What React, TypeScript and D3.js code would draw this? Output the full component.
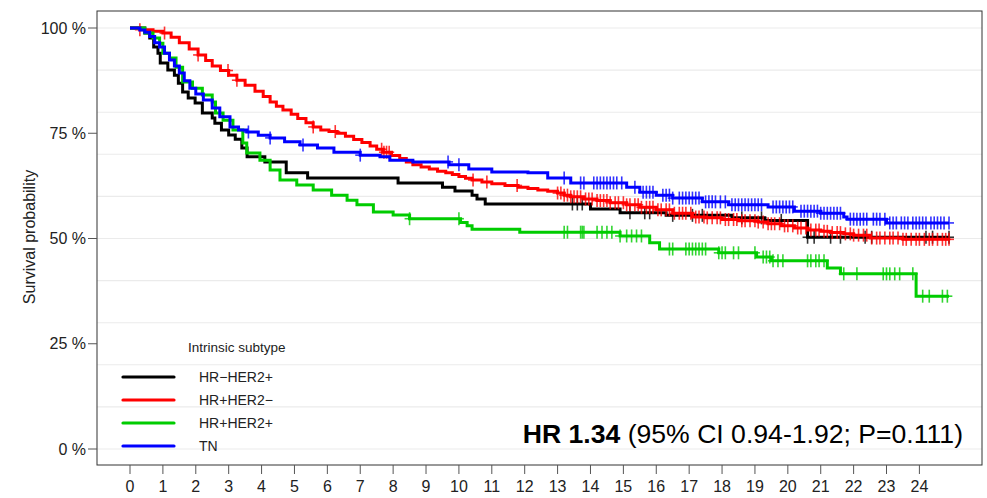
import React from "react";
import * as d3 from "d3";

const xTicks = [0,1,2,3,4,5,6,7,8,9,10,11,12,13,14,15,16,17,18,19,20,21,22,23,24];
const yTicks = [0, 25, 50, 75, 100];
const yTickLabels = ["0 %", "25 %", "50 %", "75 %", "100 %"];
const gridVals = [0,10,20,30,40,50,60,70,80,90,100];
const endTime = 24.9;

const seriesNames = ["HR\u2212HER2+", "HR+HER2\u2212", "HR+HER2+", "TN"];
const seriesColors = ["#000000", "#FF0000", "#00CC00", "#0000FF"];

const blackT = [0,0.45,0.6,0.72,0.85,0.92,1.15,1.35,1.47,1.6,1.77,1.98,2.2,2.5,2.58,2.78,3.0,3.2,3.4,3.56,4.1,4.75,5.4,8.15,9.5,9.88,10.4,10.55,10.8,14.0,14.9,16.3,18.3,19.3,20.6];
const blackS = [100,98.8,97.6,95.5,94,91.7,90,88.8,86.9,84.8,83.4,82.2,79.8,78.6,77.4,75.8,74.6,73.6,71.5,69.4,68.2,65.6,64.4,63.2,62.2,61.3,60.3,59.4,58.2,57,56.1,55.5,54.9,54.3,50.3];
const blackCens = [13.45,13.6,13.75,15.2,15.65,15.8,16.5,17.1,17.4,18.6,19.2,19.8,20.6,20.8,21.3,21.6,22.35,22.55,24.2,24.4,24.9];

const redT = [0,0.3,0.7,1.0,1.25,1.5,1.8,2.07,2.3,2.5,2.75,3.0,3.25,3.5,3.8,4.05,4.26,4.45,4.65,4.9,5.1,5.35,5.57,5.8,6.05,6.3,6.55,6.8,7.05,7.3,7.5,7.7,7.95,8.2,8.4,8.6,8.85,9.1,9.35,9.6,9.8,10.0,10.2,10.4,10.7,11.0,11.4,11.8,12.1,12.4,12.7,13.0,13.2,13.4,13.8,14.2,14.6,15.1,15.5,16.0,16.5,17.1,17.5,18.0,18.5,19.1,19.4,19.8,20.2,20.6,21.0,21.3,21.7,22.0,22.5,23.5];
const redS = [100,99.6,99.2,98.8,97.8,96.5,95,93.6,92.3,91,89.9,88.8,87.6,86.4,85,83.7,82.4,81.4,80.5,79.5,78.5,77.5,76.5,75.8,75.4,75,74.3,73.5,72.8,72,71.2,70.5,69.7,69,68.2,67.5,67,66.5,66,65.6,65.2,64.7,64.3,63.9,63.4,63,62.6,62.2,61.9,61.5,61.2,60.8,60.3,59.9,59.4,59,58.5,58,57.4,56.8,56,55.1,54.9,54.5,54.2,53.9,53.5,53,52.5,52,51.7,51.4,51.1,50.8,50.1,49.8];
const redCens = [0.3,1.05,2.07,2.98,3.25,5.57,6.24,7.65,7.72,7.8,7.88,10.43,10.85,11.77,13.0,13.1,13.2,13.3,13.4,13.5,13.6,13.7,13.85,13.95,14.05,14.2,14.3,14.4,14.5,14.6,14.75,14.85,15.0,15.1,15.2,15.35,15.45,15.55,15.7,15.8,15.9,16.05,16.15,16.3,16.4,16.55,16.7,16.8,16.9,17.05,17.2,17.3,17.45,17.55,17.7,17.85,17.95,18.1,18.2,18.35,18.45,18.6,18.7,18.85,19.0,19.1,19.25,19.4,19.5,19.6,19.75,19.9,20.0,20.15,20.3,20.4,20.55,20.7,20.85,20.95,21.1,21.2,21.35,21.5,21.6,21.75,21.9,22.0,22.15,22.3,22.4,22.55,22.7,22.8,22.95,23.1,23.2,23.35,23.5,23.6,23.75,23.9,24.0,24.15,24.3,24.4,24.55,24.7,24.8,24.9];

const greenT = [0,0.45,0.7,0.9,1.0,1.2,1.4,1.6,1.9,2.2,2.5,2.6,2.83,3.13,3.43,3.55,3.95,4.26,4.56,5.07,5.57,6.13,6.6,6.9,7.4,8.0,8.5,10.05,10.25,10.4,11.85,14.9,15.8,16.1,17.9,19.05,19.5,21.2,21.6,23.9];
const greenS = [100,98.8,97.6,96.4,94,92.9,90.7,87.2,85.7,84.1,82.4,79.8,78.1,75.8,72.7,70.3,68.6,66.3,63.9,62.7,61.5,60.3,59.1,58,56.3,55.6,54.7,53.8,53,52.2,51.5,50.6,49,47.5,46.6,45.6,44.7,43,41.6,36.3];
const greenCens = [8.5,10.0,13.2,13.3,13.7,13.75,13.8,14.2,14.35,14.5,14.65,14.9,15.1,15.25,15.4,15.55,16.4,16.5,16.9,17.0,17.1,17.2,17.3,17.4,17.5,17.9,18.0,18.1,18.35,18.5,19.0,19.25,19.35,19.45,19.55,19.7,19.85,20.6,20.7,20.85,20.95,21.1,21.7,22.1,22.9,23.0,23.1,23.25,23.4,23.8,24.1,24.3,24.7,24.85];

const blueT = [0,0.3,0.45,0.6,0.75,0.9,1.05,1.2,1.35,1.5,1.65,1.82,2.0,2.23,2.5,2.73,3.04,3.3,3.55,3.9,4.26,4.7,5.17,5.7,6.2,7.0,7.6,7.9,8.6,9.7,10.3,11.0,12.1,12.7,13.4,15.1,15.5,16.0,16.5,17.4,18.2,19.4,20.2,21.0,21.7,21.8,23.0];
const blueS = [100,99.5,99,98,96.5,95.5,94,92.4,91,89.3,87.5,85.7,84.3,82.9,81,78.9,76.5,75.8,75.3,74.5,73.9,73,72.2,71.5,70.5,69.8,69.4,68.6,68.2,67.5,66.5,65.8,65.6,64.4,63.2,62.2,61,60.3,59.6,58.7,58,57.5,56.5,56,55.1,54.6,53.7];
const blueCens = [3.6,4.26,5.26,7.0,9.67,10.0,13.2,13.7,13.8,14.1,14.2,14.3,14.4,14.5,14.6,14.7,14.8,14.95,15.35,15.6,15.7,15.8,15.9,16.2,16.3,16.4,16.5,16.7,16.8,16.9,17.0,17.1,17.2,17.3,17.5,17.6,17.7,17.8,17.95,18.1,18.3,18.4,18.5,18.6,18.7,18.8,18.9,19.0,19.1,19.2,19.55,19.65,19.75,19.85,19.95,20.05,20.15,20.4,20.5,20.6,20.7,20.8,20.9,21.0,21.1,21.2,21.3,21.4,21.5,21.6,21.9,22.0,22.1,22.2,22.3,22.4,22.6,22.7,22.8,22.95,23.1,23.2,23.3,23.45,23.55,23.65,23.8,23.9,24.0,24.1,24.2,24.35,24.45,24.55,24.65,24.75,24.9];

const seriesT = [blackT, redT, greenT, blueT];
const seriesS = [blackS, redS, greenS, blueS];
const seriesCens = [blackCens, redCens, greenCens, blueCens];

const W = 987, H = 498;
const panel = { left: 97, right: 982, top: 11, bottom: 465 };
const FONT = "Liberation Sans, Arial, sans-serif";

export default function App() {
  const x = d3.scaleLinear().domain([0, 24]).range([130, 919.4]);
  const y = d3.scaleLinear().domain([0, 100]).range([449, 28]);
  const line = d3.line<[number, number]>().x(d => x(d[0])).y(d => y(d[1])).curve(d3.curveStepAfter);

  const survAt = (ts: number[], ss: number[], t: number) => {
    let v = ss[0];
    for (let i = 0; i < ts.length; i++) { if (ts[i] <= t) v = ss[i]; }
    return v;
  };

  const legendY = [377, 400, 423, 446];

  return (
    <svg width={W} height={H} style={{ position: "absolute", left: 0, top: 0, background: "#fff" }}>
      <rect x={0} y={0} width={W} height={H} fill="#fff" />
      {gridVals.map(g => (
        <line key={"g" + g} x1={panel.left} x2={panel.right} y1={y(g)} y2={y(g)} stroke="#EBEBEB" strokeWidth={1.1} />
      ))}
      <rect x={panel.left} y={panel.top} width={panel.right - panel.left} height={panel.bottom - panel.top} fill="none" stroke="#333" strokeWidth={1} />
      {yTicks.map((v, i) => (
        <g key={"y" + v}>
          <line x1={panel.left - 9} x2={panel.left} y1={y(v)} y2={y(v)} stroke="#555" strokeWidth={1} />
          <text x={panel.left - 11} y={y(v) + 5.5} textAnchor="end" fontFamily={FONT} fontSize={16} fill="#222">{yTickLabels[i]}</text>
        </g>
      ))}
      {xTicks.map(v => (
        <g key={"x" + v}>
          <line x1={x(v)} x2={x(v)} y1={panel.bottom} y2={panel.bottom + 9} stroke="#555" strokeWidth={1} />
          <text x={x(v)} y={492} textAnchor="middle" fontFamily={FONT} fontSize={16} fill="#222">{v}</text>
        </g>
      ))}
      <text transform="translate(35,237) rotate(-90)" textAnchor="middle" fontFamily={FONT} fontSize={16} fill="#222">Survival probability</text>

      {seriesT.map((ts, i) => {
        const pts: [number, number][] = ts.map((t, j) => [t, seriesS[i][j]] as [number, number]);
        pts.push([endTime, seriesS[i][seriesS[i].length - 1]]);
        return (
          <g key={"s" + i}>
            <path d={line(pts) || ""} fill="none" stroke={seriesColors[i]} strokeWidth={3} />
            {seriesCens[i].map((c, k) => {
              const cx = x(c), cy = y(survAt(ts, seriesS[i], c));
              return (
                <g key={k} stroke={seriesColors[i]} strokeWidth={1.6} opacity={0.8}>
                  <line x1={cx} x2={cx} y1={cy - 6.5} y2={cy + 6.5} />
                  <line x1={cx - 5} x2={cx + 5} y1={cy} y2={cy} />
                </g>
              );
            })}
          </g>
        );
      })}

      <text x={188} y={352} fontFamily={FONT} fontSize={13.5} fill="#222">Intrinsic subtype</text>
      {seriesNames.map((n, i) => (
        <g key={"l" + i}>
          <line x1={123} x2={174} y1={legendY[i]} y2={legendY[i]} stroke={seriesColors[i]} strokeWidth={3.2} strokeLinecap="round" />
          <text x={199} y={legendY[i] + 5} fontFamily={FONT} fontSize={14} fill="#222">{n}</text>
        </g>
      ))}

      <text x={963} y={443} textAnchor="end" fontFamily={FONT} fontSize={26.6} fill="#000">
        <tspan fontWeight="bold">HR 1.34</tspan>
        <tspan> (95% CI 0.94-1.92; P=0.111)</tspan>
      </text>
    </svg>
  );
}
